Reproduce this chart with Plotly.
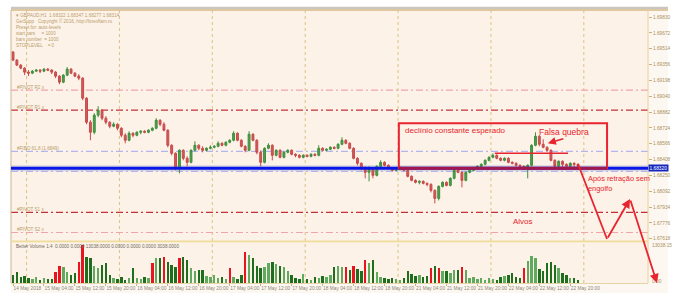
import plotly.graph_objects as go

# ---------------- data ----------------
bar_index = list(range(147))

open_ = [1.6948,1.6940,1.6935,1.6932,1.6928,1.6927,1.6929,1.6930,1.6929,1.6931,
         1.6930,1.6928,1.6924,1.6918,1.6925,1.6931,1.6927,1.6924,1.6922,1.6902,
         1.6878,1.6868,1.6885,1.6890,1.6882,1.6878,1.6874,1.6876,1.6872,1.6865,
         1.6860,1.6867,1.6865,1.6868,1.6869,1.6868,1.6870,1.6872,1.6880,1.6876,
         1.6870,1.6855,1.6847,1.6832,1.6850,1.6842,1.6838,1.6850,1.6855,1.6852,
         1.6850,1.6852,1.6853,1.6854,1.6857,1.6855,1.6858,1.6860,1.6867,1.6860,
         1.6854,1.6850,1.6866,1.6860,1.6848,1.6838,1.6852,1.6855,1.6845,1.6850,
         1.6843,1.6848,1.6850,1.6846,1.6845,1.6843,1.6845,1.6844,1.6846,1.6845,
         1.6852,1.6850,1.6851,1.6853,1.6852,1.6856,1.6860,1.6857,1.6852,1.6842,
         1.6837,1.6832,1.6828,1.6832,1.6825,1.6834,1.6838,1.6835,1.6832,1.6830,
         1.6831,1.6832,1.6830,1.6824,1.6820,1.6818,1.6819,1.6817,1.6816,1.6810,
         1.6802,1.6814,1.6818,1.6815,1.6822,1.6830,1.6828,1.6820,1.6828,1.6830,
         1.6832,1.6834,1.6836,1.6840,1.6843,1.6845,1.6842,1.6840,1.6842,1.6838,
         1.6837,1.6835,1.6834,1.6832,1.6835,1.6855,1.6864,1.6856,1.6853,1.6850,
         1.6840,1.6834,1.6839,1.6836,1.6834,1.6837,1.6836]

close = [1.6940,1.6935,1.6932,1.6928,1.6927,1.6929,1.6930,1.6929,1.6931,1.6930,
         1.6928,1.6924,1.6918,1.6925,1.6931,1.6927,1.6924,1.6922,1.6902,1.6878,
         1.6868,1.6885,1.6890,1.6882,1.6878,1.6874,1.6876,1.6872,1.6865,1.6860,
         1.6867,1.6865,1.6868,1.6869,1.6868,1.6870,1.6872,1.6880,1.6876,1.6870,
         1.6855,1.6847,1.6832,1.6850,1.6842,1.6838,1.6850,1.6855,1.6852,1.6850,
         1.6852,1.6853,1.6854,1.6857,1.6855,1.6858,1.6860,1.6867,1.6860,1.6854,
         1.6850,1.6866,1.6860,1.6848,1.6838,1.6852,1.6855,1.6845,1.6850,1.6843,
         1.6848,1.6850,1.6846,1.6845,1.6843,1.6845,1.6844,1.6846,1.6845,1.6852,
         1.6850,1.6851,1.6853,1.6852,1.6856,1.6860,1.6857,1.6852,1.6842,1.6837,
         1.6832,1.6828,1.6832,1.6825,1.6834,1.6838,1.6835,1.6832,1.6830,1.6831,
         1.6832,1.6830,1.6824,1.6820,1.6818,1.6819,1.6817,1.6816,1.6810,1.6802,
         1.6814,1.6818,1.6815,1.6822,1.6830,1.6828,1.6820,1.6828,1.6830,1.6832,
         1.6834,1.6836,1.6840,1.6843,1.6845,1.6842,1.6840,1.6842,1.6838,1.6837,
         1.6835,1.6834,1.6832,1.6835,1.6855,1.6864,1.6856,1.6853,1.6850,1.6840,
         1.6834,1.6839,1.6836,1.6834,1.6837,1.6836,1.6834]

high = [1.6949,1.6941,1.6936,1.6933,1.6930,1.6930,1.6931,1.6931,1.6932,1.6932,
        1.6931,1.6929,1.6925,1.6926,1.6933,1.6932,1.6928,1.6926,1.6923,1.6903,
        1.6880,1.6887,1.6894,1.6891,1.6884,1.6879,1.6878,1.6877,1.6873,1.6867,
        1.6869,1.6868,1.6869,1.6870,1.6870,1.6871,1.6873,1.6882,1.6881,1.6878,
        1.6871,1.6856,1.6848,1.6851,1.6851,1.6844,1.6851,1.6859,1.6856,1.6854,
        1.6853,1.6855,1.6855,1.6859,1.6858,1.6859,1.6861,1.6869,1.6868,1.6861,
        1.6855,1.6869,1.6867,1.6861,1.6850,1.6853,1.6857,1.6856,1.6851,1.6851,
        1.6849,1.6851,1.6851,1.6847,1.6846,1.6846,1.6846,1.6847,1.6847,1.6855,
        1.6853,1.6852,1.6854,1.6854,1.6857,1.6863,1.6861,1.6858,1.6853,1.6843,
        1.6838,1.6834,1.6834,1.6833,1.6835,1.6840,1.6839,1.6836,1.6833,1.6832,
        1.6834,1.6833,1.6831,1.6825,1.6821,1.6820,1.6820,1.6818,1.6817,1.6811,
        1.6815,1.6819,1.6819,1.6823,1.6831,1.6832,1.6829,1.6829,1.6831,1.6833,
        1.6835,1.6837,1.6841,1.6844,1.6847,1.6846,1.6843,1.6843,1.6843,1.6839,
        1.6838,1.6836,1.6835,1.6836,1.6856,1.6868,1.6865,1.6861,1.6854,1.6851,
        1.6841,1.6840,1.6840,1.6837,1.6838,1.6838,1.6837]

low = [1.6939,1.6934,1.6931,1.6925,1.6924,1.6926,1.6928,1.6927,1.6928,1.6929,
       1.6926,1.6922,1.6916,1.6917,1.6924,1.6926,1.6923,1.6920,1.6900,1.6876,
       1.6860,1.6866,1.6883,1.6880,1.6876,1.6872,1.6873,1.6870,1.6863,1.6857,
       1.6859,1.6863,1.6864,1.6866,1.6867,1.6867,1.6869,1.6871,1.6874,1.6869,
       1.6853,1.6845,1.6830,1.6827,1.6840,1.6834,1.6837,1.6849,1.6850,1.6848,
       1.6849,1.6851,1.6852,1.6853,1.6854,1.6854,1.6857,1.6859,1.6859,1.6853,
       1.6848,1.6849,1.6859,1.6846,1.6834,1.6837,1.6851,1.6840,1.6844,1.6842,
       1.6842,1.6847,1.6845,1.6843,1.6842,1.6842,1.6843,1.6843,1.6844,1.6844,
       1.6849,1.6849,1.6850,1.6851,1.6851,1.6855,1.6856,1.6851,1.6841,1.6835,
       1.6830,1.6822,1.6819,1.6822,1.6824,1.6833,1.6834,1.6831,1.6829,1.6829,
       1.6830,1.6829,1.6823,1.6819,1.6817,1.6816,1.6816,1.6814,1.6808,1.6797,
       1.6800,1.6813,1.6814,1.6814,1.6821,1.6827,1.6813,1.6819,1.6827,1.6829,
       1.6831,1.6833,1.6835,1.6839,1.6842,1.6841,1.6839,1.6839,1.6837,1.6836,
       1.6834,1.6833,1.6831,1.6822,1.6834,1.6854,1.6854,1.6852,1.6849,1.6839,
       1.6833,1.6833,1.6833,1.6833,1.6833,1.6833,1.6833]

volume = [2400,3300,1800,2100,1500,1200,1800,900,1500,1200,
          1200,3300,5100,4800,3300,2400,3000,6300,11400,7800,
          7500,5100,4500,5400,6000,2400,1500,1200,1800,900,
          1500,4500,1500,1200,1800,1500,6000,7500,7500,7800,
          6300,5400,4800,7500,7800,6900,4500,3600,3900,3900,
          2100,1800,2400,1500,1800,1200,4500,1800,1200,2400,
          9300,8400,7500,5100,4500,4800,6000,6300,5700,5100,
          4800,3600,2400,1500,1200,2700,1200,900,1800,1500,
          2100,1800,2400,4800,5100,4800,4800,3900,5100,4200,
          3600,6900,6000,6900,3300,1800,1500,1200,1500,1200,
          900,1500,3600,2700,2100,2400,1800,2100,4500,5100,
          4500,3600,3600,3000,3900,3900,4800,3900,1500,1800,
          1200,1500,900,1500,1200,900,1800,2100,2400,3000,
          1800,1500,4500,6600,8100,7500,4200,3600,6000,6300,
          5400,4500,3000,2400,1500,1500,900]

climax_bars = [11,12,17,18,36,39,43,56,60,86,88,91,108,110,116,132]

tick_bars = [0,8,16,24,32,40,48,56,64,72,80,88,96,104,112,120,128,136,144]
tick_text = ["14 May 2018","15 May 04:00","15 May 12:00","15 May 20:00","16 May 04:00",
             "16 May 12:00","16 May 20:00","17 May 04:00","17 May 12:00","17 May 20:00",
             "18 May 04:00","18 May 12:00","18 May 20:00","21 May 04:00","21 May 12:00",
             "21 May 20:00","22 May 04:00","22 May 12:00","22 May 20:00"]

day_separators = [3.5, 27.5, 51.5, 75.5, 99.5, 123.5, 147.5]

level_prices = [1.6910, 1.6890, 1.6849, 1.6829, 1.6788, 1.6768]
level_colors = ["#F0A3AB", "#C43038", "#B2B6EC", "#B2B6EC", "#C43038", "#F0A3AB"]
level_labels = ["#PIVOT R2 x", "#PIVOT R1 x", "#FIBO 61.8 (1.6849)", "", "#PIVOT S1 x", "#PIVOT S2 x"]

current_price = 1.6832

# ---------------- geometry helpers (layout) ----------------
L, R, T, B = 11, 37, 10, 17
W, H = 685, 300
PW, PH = W - L - R, H - T - B
def px(xp):   # pixel x -> paper
    return (xp - L) / PW
def py(yp):   # pixel y -> paper
    return (H - B - yp) / PH

red = "#E8242E"
small = "Liberation Sans, Arial, sans-serif"

fig = go.Figure()

fig.add_trace(go.Candlestick(
    x=bar_index, open=open_, high=high, low=low, close=close,
    increasing=dict(line=dict(color="#3E8F3E", width=1), fillcolor="#4E9E4E"),
    decreasing=dict(line=dict(color="#C84A4A", width=1), fillcolor="#CF5A5A"),
    whiskerwidth=0, xaxis="x", yaxis="y", showlegend=False, hoverinfo="skip"))

vol_colors = []
for i in bar_index:
    if i in climax_bars:
        vol_colors.append("#E8141E")
    elif close[i] < open_[i]:
        vol_colors.append("#1E6E1E")
    else:
        vol_colors.append("#5FAA5F")

fig.add_trace(go.Bar(x=bar_index, y=volume, marker=dict(color=vol_colors, line=dict(width=0)),
                     width=0.62, xaxis="x", yaxis="y2", showlegend=False, hoverinfo="skip"))

shapes = []
shapes.append(dict(type="rect", xref="paper", yref="paper", x0=px(648), x1=px(668), y0=py(293), y1=py(10),
                   fillcolor="#FDF7F1", line=dict(width=0), layer="below"))
shapes.append(dict(type="rect", xref="paper", yref="paper", x0=px(11), x1=px(668), y0=py(293), y1=py(283),
                   fillcolor="#FDF7F1", line=dict(width=0), layer="below"))
shapes.append(dict(type="rect", xref="paper", yref="paper", x0=px(11), x1=px(668), y0=py(9.2), y1=py(6.8),
                   fillcolor="#C9C6C2", line=dict(width=0)))
shapes.append(dict(type="line", xref="paper", yref="paper", x0=px(11), x1=px(668), y0=py(10), y1=py(10),
                   line=dict(color="#D8B985", width=1.6)))
shapes.append(dict(type="line", xref="paper", yref="paper", x0=px(11), x1=px(11), y0=py(283), y1=py(10),
                   line=dict(color="#C7B592", width=1)))
shapes.append(dict(type="line", xref="paper", yref="paper", x0=px(648), x1=px(648), y0=py(283), y1=py(10),
                   line=dict(color="#E6D29C", width=1)))
shapes.append(dict(type="line", xref="paper", yref="paper", x0=px(11), x1=px(648), y0=py(283.5), y1=py(283.5),
                   line=dict(color="#E3D3A6", width=1)))
for d in day_separators:
    shapes.append(dict(type="line", xref="x", yref="paper", x0=d, x1=d, y0=0, y1=1,
                       line=dict(color="#D8C486", width=1, dash="dot"), layer="below"))
shapes.append(dict(type="rect", xref="paper", yref="y", x0=0, x1=1, y0=1.68290, y1=1.68350,
                   fillcolor="#D6D4DC", line=dict(width=0), layer="below"))
for p, c in zip(level_prices, level_colors):
    shapes.append(dict(type="line", xref="paper", yref="y", x0=0, x1=1, y0=p, y1=p,
                       line=dict(color=c, width=1.2, dash="7px,3px,2px,3px"), layer="below"))
shapes.append(dict(type="line", xref="paper", yref="y", x0=0, x1=1, y0=current_price, y1=current_price,
                   line=dict(color="#0A16E8", width=3)))
shapes.append(dict(type="line", xref="paper", yref="paper", x0=0, x1=1, y0=py(241.5), y1=py(241.5),
                   line=dict(color="#F0DC9C", width=2.2)))
shapes.append(dict(type="rect", xref="x", yref="y", x0=99.7, x1=153.5, y0=1.6832, y1=1.6877,
                   line=dict(color=red, width=2)))
shapes.append(dict(type="line", xref="x", yref="y", x0=99.7, x1=153.5, y0=1.6832, y1=1.6832,
                   line=dict(color="#A0184E", width=3)))
shapes.append(dict(type="line", xref="x", yref="y", x0=124.5, x1=143.4, y0=1.6847, y1=1.6847,
                   line=dict(color=red, width=1.6)))
shapes.append(dict(type="line", xref="paper", yref="paper", x0=px(578), y0=py(164), x1=px(607), y1=py(239),
                   line=dict(color=red, width=1.8)))

annotations = []
annotations.append(dict(xref="paper", yref="paper", x=px(14), y=py(11), xanchor="left", yanchor="top",
    text="▾ GBPAUD,H1  1.68322 1.68347 1.68277 1.68314<br>GetSupp   Copyright © 2016, http://forexflam.ru<br>"
         "Preset for: auto-levels<br>start bars     = 1000<br>bars number  = 1000<br>STOPLEVEL    = 0",
    showarrow=False, align="left", font=dict(family=small, size=4.6, color="#B99E6C")))
for p, t in zip(level_prices, level_labels):
    if t:
        annotations.append(dict(xref="paper", yref="y", x=px(15), y=p + 0.00028, xanchor="left", yanchor="middle",
                                text=t, showarrow=False, font=dict(family=small, size=4.6, color="#B99E6C")))
annotations.append(dict(xref="paper", yref="paper", x=px(14), y=py(246.5), xanchor="left", yanchor="middle",
    text="Better Volume 1.4  0.0000 0.0000 13038.0000 0.0000 0.0000 0.0000 3038.0000",
    showarrow=False, font=dict(family=small, size=4.6, color="#6F6A62")))
annotations.append(dict(xref="paper", yref="paper", x=px(650), y=py(245.5), xanchor="left", yanchor="middle",
    text="13038.15", showarrow=False, font=dict(family=small, size=4.8, color="#A8915C")))
annotations.append(dict(xref="paper", yref="paper", x=px(650), y=py(281), xanchor="left", yanchor="middle",
    text="0.00", showarrow=False, font=dict(family=small, size=4.8, color="#A8915C")))
annotations.append(dict(xref="paper", yref="y", x=1.0, y=current_price, xanchor="left", yanchor="middle",
    text="1.68320", showarrow=False, bgcolor="#1428C0", borderpad=0.5,
    font=dict(family=small, size=4.8, color="white")))
annotations.append(dict(xref="x", yref="y", x=100.8, y=1.6870, xanchor="left", yanchor="middle",
    text="declínio constante esperado", showarrow=False, font=dict(family=small, size=8, color=red)))
annotations.append(dict(xref="x", yref="y", x=135.4, y=1.6868, xanchor="left", yanchor="middle",
    text="Falsa quebra", showarrow=False, font=dict(family=small, size=8.5, color=red)))
annotations.append(dict(xref="paper", yref="paper", x=px(586), y=py(183.5), xanchor="left", yanchor="middle",
    text="Após retração sem<br>engolfo", showarrow=False, align="left",
    font=dict(family=small, size=7.4, color=red)))
annotations.append(dict(xref="paper", yref="paper", x=px(523), y=py(221), xanchor="center", yanchor="middle",
    text="Alvos", showarrow=False, font=dict(family=small, size=8, color=red)))
annotations.append(dict(xref="x", yref="y", x=138.2, y=1.6857, ax=17, ay=-5, text="", showarrow=True,
    arrowhead=2, arrowsize=1, arrowwidth=1.6, arrowcolor=red))
annotations.append(dict(xref="paper", yref="paper", x=px(630), y=py(199), ax=-23, ay=40, text="",
    showarrow=True, arrowhead=2, arrowsize=1, arrowwidth=1.8, arrowcolor=red))
annotations.append(dict(xref="paper", yref="paper", x=px(657), y=py(283), ax=-27, ay=-84, text="",
    showarrow=True, arrowhead=2, arrowsize=1, arrowwidth=1.8, arrowcolor=red))

fig.update_layout(
    width=W, height=H,
    margin=dict(l=L, r=R, t=T, b=B, pad=0, autoexpand=False),
    paper_bgcolor="white", plot_bgcolor="#FDF2E8",
    showlegend=False, bargap=0,
    shapes=shapes, annotations=annotations,
    xaxis=dict(anchor="y2", range=[-0.52, 164.08], tickvals=tick_bars, ticktext=tick_text,
               tickangle=0, automargin=False,
               ticklabelposition="outside right", ticks="outside", ticklen=2, tickcolor="#C8B07A",
               tickfont=dict(family=small, size=4.8, color="#8C8678"),
               showgrid=False, zeroline=False, showline=False,
               rangeslider=dict(visible=False)),
    yaxis=dict(domain=[py(241), 1], range=[1.67595, 1.6990], side="right", anchor="x", automargin=False,
               tick0=1.6983, dtick=0.00158, tickformat=".5f", ticks="outside", ticklen=3,
               tickcolor="#C8B07A", tickfont=dict(family=small, size=4.8, color="#A8915C"),
               showgrid=False, zeroline=False, showline=False),
    yaxis2=dict(domain=[0, py(243)], range=[0, 12000], anchor="x", showticklabels=False, automargin=False,
                showgrid=False, zeroline=False, showline=False, ticks=""),
)

fig.write_html("out.html")
